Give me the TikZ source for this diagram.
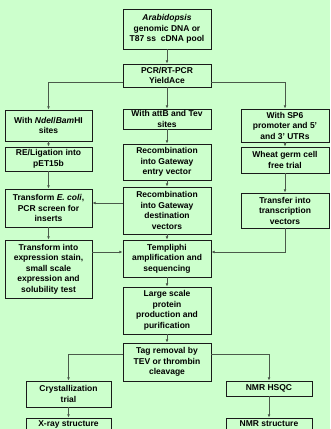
\documentclass[tikz,border=0pt]{standalone}
\usepackage{fontspec}
\setsansfont{Liberation Sans}
\usetikzlibrary{positioning, arrows.meta, calc}
\definecolor{bggreen}{HTML}{CCFFCC}
\definecolor{ink}{HTML}{1A1A1A}
\definecolor{wire}{HTML}{4A5A4A}

\begin{document}
\begin{tikzpicture}[x=1pt, y=-1pt,
  font=\sffamily\bfseries\fontsize{8.5}{10.5}\selectfont,
  box/.style={draw=ink, line width=0.9pt, align=center, inner sep=0pt, minimum width=88pt},
  arr/.style={-{Latex[length=3.2pt, width=2.8pt]}, wire, line width=0.8pt}
]
  \useasboundingbox[fill=bggreen] (0,0) rectangle (330,429);
  \clip (0,0) rectangle (330,429);

  % top of the flow
  \node[box, minimum height=40pt] (src) at (167,29) {\textit{Arabidopsis}\\genomic DNA or\\T87 ss\ \ cDNA pool};
  \node[box, minimum height=23pt] (pcr) at (167,75.5) {PCR/RT-PCR\\YieldAce};

  % three cloning routes
  \node[box, minimum width=87pt, minimum height=31pt] (ndei) at (48.5,125.5) {With \textit{NdeI}/\textit{Bam}HI\\sites};
  \node[box, minimum height=20pt] (attb) at (167,119) {With attB and Tev\\sites};
  \node[box, minimum height=33pt] (sp6) at (285,125.5) {With SP6\\promoter and 5'\\and 3' UTRs};

  \node[box, minimum width=87pt, minimum height=24pt] (relig) at (48.5,159) {RE/Ligation into\\pET15b};
  \node[box, minimum height=36pt] (entry) at (167,162) {Recombination\\into Gateway\\entry vector};
  \node[box, minimum height=26pt] (wheat) at (285,160) {Wheat germ cell\\free trial};

  \node[box, minimum width=87pt, minimum height=38pt] (ecoli) at (48.5,208) {Transform \textit{E. coli},\\PCR screen for\\inserts};
  \node[box, minimum height=47pt] (dest) at (167,210.5) {Recombination\\into Gateway\\destination\\vectors};
  \node[box, minimum height=35pt] (transc) at (285,210.5) {Transfer into\\transcription\\vectors};

  \node[box, minimum width=87pt, minimum height=58pt] (expr) at (48.5,269) {Transform into\\expression stain,\\small scale\\expression and\\solubility test};
  \node[box, minimum height=37pt] (templ) at (167,258.5) {Templiphi\\amplification and\\sequencing};

  % production and structure
  \node[box, minimum height=47pt] (large) at (167,310.5) {Large scale\\protein\\production and\\purification};
  \node[box, minimum height=38pt] (tag) at (167,362) {Tag removal by\\TEV or thrombin\\cleavage};

  \node[box, minimum width=85pt, minimum height=26pt] (cryst) at (68.5,394) {Crystallization\\trial};
  \node[box, minimum width=86pt, minimum height=15pt] (hsqc) at (269,388.5) {NMR HSQC};
  \node[box, minimum width=85pt, minimum height=12pt] (xray) at (68.5,424) {X-ray structure};
  \node[box, minimum width=86pt, minimum height=12pt] (nmr) at (269,424) {NMR structure};

  \draw[arr] (src) -- (pcr);
  \draw[arr] (pcr) -- (attb);
  \draw[arr] ([yshift=-6.5pt]pcr.west) -| (ndei.north);
  \draw[arr] ([yshift=-6.5pt]pcr.east) -| (sp6.north);

  \draw[arr] (ndei) -- (relig);
  \draw[arr] (relig) -- (ecoli);
  \draw[arr] (ecoli) -- (expr);
  \draw[arr] (attb) -- (entry);
  \draw[arr] (entry) -- (dest);
  \draw[arr] (dest) -- (templ);
  \draw[arr] (sp6) -- (wheat);
  \draw[arr] (wheat) -- (transc);

  \draw[arr] ([yshift=7.5pt]dest.west) -- ([yshift=7.5pt]dest.west -| ecoli.east);
  \draw[arr] ([yshift=6.5pt]templ.west -| expr.east) -- ([yshift=6.5pt]templ.west);
  \draw[arr] (transc.south) |- ([yshift=6.5pt]templ.east);

  \draw[arr] (templ) -- (large);
  \draw[arr] (large) -- (tag);
  \draw[arr] ([yshift=8pt]tag.west) -| (cryst.north);
  \draw[arr] ([yshift=8pt]tag.east) -| (hsqc.north);
  \draw[arr] (cryst) -- (xray);
  \draw[arr] (hsqc) -- (nmr);
\end{tikzpicture}
\end{document}
